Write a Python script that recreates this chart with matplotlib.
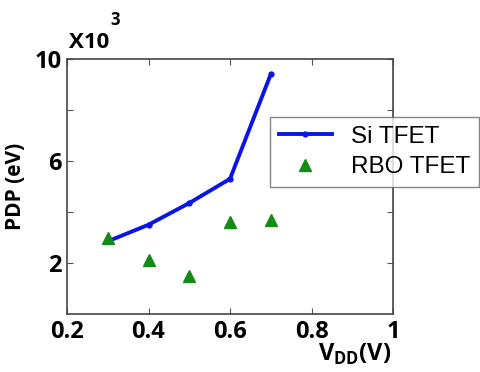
import matplotlib
matplotlib.use('Agg')
import matplotlib.pyplot as plt

# datos (PDP en unidades de 10^3 eV)
vdd = [0.3, 0.4, 0.5, 0.6, 0.7]
pdp_si = [2.85, 3.5, 4.35, 5.3, 9.4]
pdp_rbo = [3.0, 2.1, 1.5, 3.6, 3.7]

xticks = [0.2, 0.4, 0.6, 0.8, 1.0]
xlabels = ['0.2', '0.4', '0.6', '0.8', '1']
yticks = [2, 4, 6, 8, 10]
ylabels = ['2', '', '6', '', '10']

plt.rcParams['font.family'] = ['Open Sans', 'DejaVu Sans']

fig = plt.figure(figsize=(4.81, 3.72), dpi=100)
ax = fig.add_axes([67/481, 1-314/372, (393-67)/481, (314-59)/372])

ax.plot(vdd, pdp_si, color='#0a14e6', lw=2.8, marker='o', ms=3.5, label='Si TFET')
ax.plot(vdd, pdp_rbo, ls='none', marker='^', color='#168a16', ms=9, label='RBO TFET')

ax.set_xlim(0.2, 1.0)
ax.set_ylim(0, 10)
ax.set_xticks(xticks)
ax.set_xticklabels(xlabels, fontsize=17, fontweight='bold')
ax.set_yticks(yticks)
ax.set_yticklabels(ylabels, fontsize=17, fontweight='bold')
ax.tick_params(direction='in', top=True, right=True, length=4, color='#555555', pad=4)
for s in ax.spines.values():
    s.set_color('#444444')
    s.set_linewidth(1.2)

ax.set_ylabel('PDP (eV)', fontsize=15, fontweight='bold', labelpad=6)
fig.text(355/481, 1-354/372, r'V$_{\mathregular{DD}}$(V)', fontsize=17, fontweight='bold',
         ha='center', va='center')
fig.text(69/481, 1-43/372, 'X10', fontsize=16, fontweight='bold', ha='left', va='center')
fig.text(110/481, 1-20/372, '3', fontsize=12, fontweight='bold', ha='left', va='center')

leg = fig.legend(loc='upper left', bbox_to_anchor=(270/481, 1-117/372),
                 prop={'family': 'Liberation Sans', 'size': 17.5},
                 fancybox=False, edgecolor='#666666', borderpad=0.35,
                 labelspacing=0.35, handlelength=2.2, handletextpad=0.8, borderaxespad=0)
leg.get_frame().set_linewidth(1.0)

fig.savefig('out.png', dpi=100)
